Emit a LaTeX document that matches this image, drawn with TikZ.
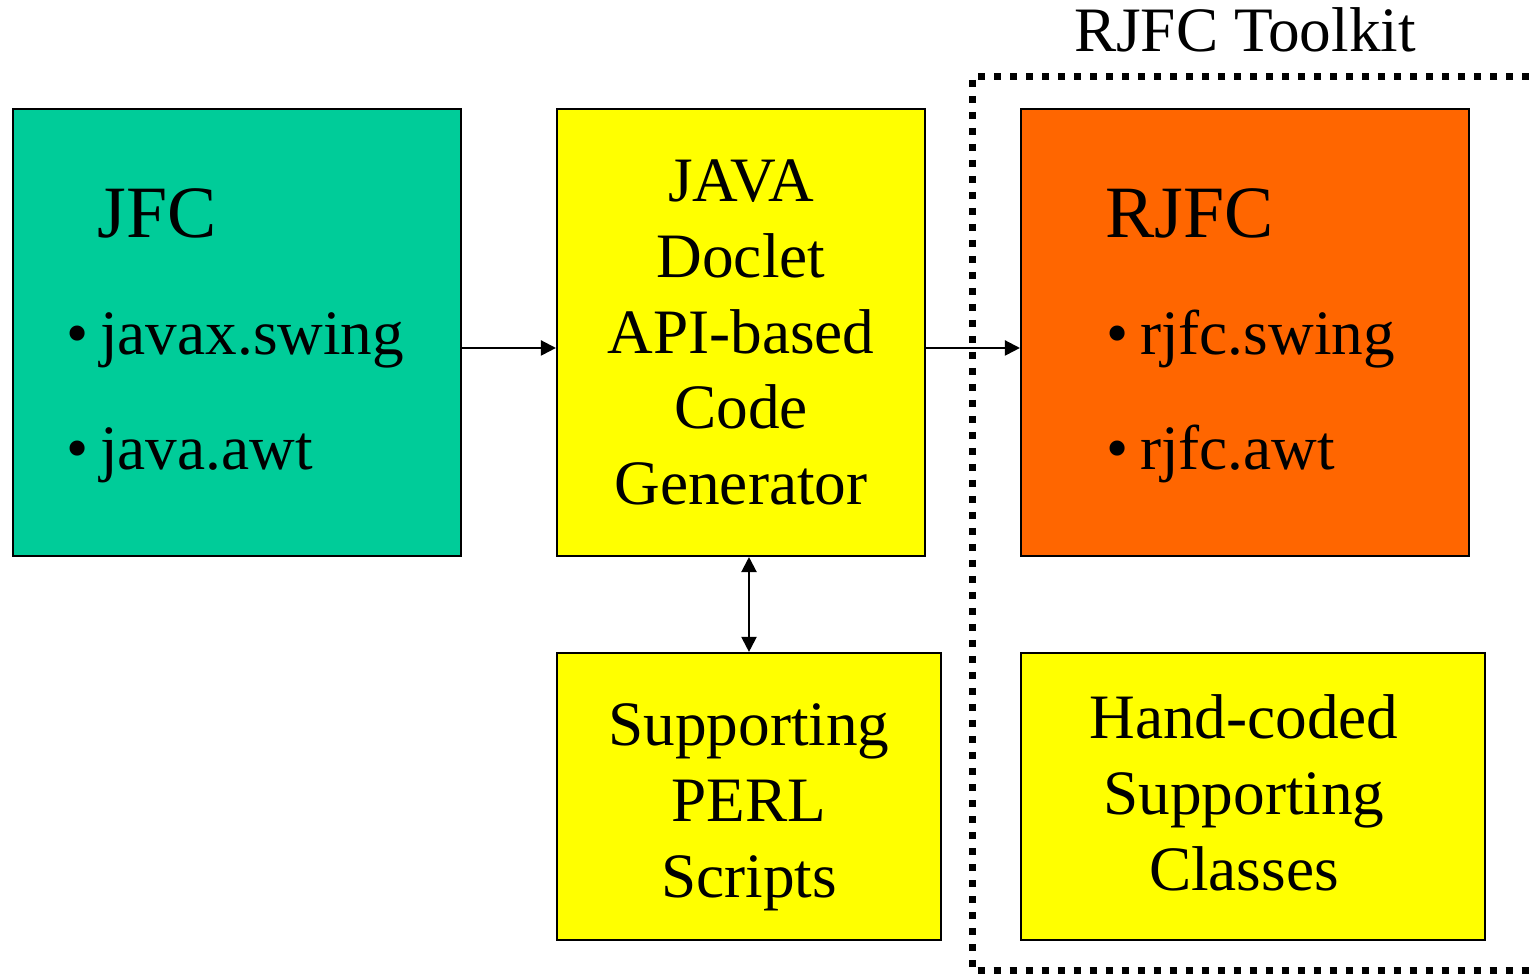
\documentclass[tikz,border=0pt]{standalone}
\usepackage{fontspec}
\setmainfont{Liberation Serif}
\usetikzlibrary{arrows.meta,calc}

\definecolor{jfcgreen}{HTML}{00CC99}
\definecolor{genyellow}{HTML}{FFFF00}
\definecolor{rjfcorange}{HTML}{FF6600}

\tikzset{
  box/.style={draw, line width=0.6pt, inner sep=0pt, align=center,
    font=\fontsize{18}{21.6}\selectfont},
  txt/.style={inner sep=0pt, align=center, font=\fontsize{18}{21.6}\selectfont},
  head/.style={anchor=base west, inner sep=0pt, font=\fontsize{21}{25}\selectfont},
  item/.style={anchor=base west, inner sep=0pt, font=\fontsize{18}{21.6}\selectfont},
}
\newcommand{\itm}[1]{\textbullet\hspace{0.18em}#1}

\begin{document}
\begin{tikzpicture}[>={Triangle[length=4.3pt,width=4.3pt]}]
        \useasboundingbox (0,0) rectangle (15.29,9.74);

        % Khung RJFC Toolkit (chấm vuông)
        \draw[line width=0.07cm, dash pattern=on 0.07cm off 0.09cm]
          (15.29,8.975) -- (9.725,8.975) -- (9.725,0.03) -- (15.29,0.03);
        \node[font=\fontsize{18}{21.6}\selectfont, anchor=base] (kit) at (12.45,9.22) {RJFC Toolkit};

        % Các khối
        \node[box, fill=jfcgreen, minimum width=4.48cm, minimum height=4.47cm] (jfc) at (2.37,6.415) {};
        \node[box, fill=genyellow, minimum width=3.68cm, minimum height=4.47cm] (gen) at (7.41,6.415)
          {JAVA\\Doclet\\API-based\\Code\\Generator};
        \node[box, fill=rjfcorange, minimum width=4.48cm, minimum height=4.47cm] (rjfc) at (12.45,6.415) {};
        \node[box, fill=genyellow, minimum width=3.84cm, minimum height=2.87cm] (perl) at (7.49,1.775) {};
        \node[box, fill=genyellow, minimum width=4.64cm, minimum height=2.87cm] (hand) at (12.53,1.775) {};

        % Chữ trong hai khối dưới
        \node[txt] (perlt) at ([yshift=-1.1mm]perl.center) {Supporting\\PERL\\Scripts};
        \node[txt] (handt) at ([xshift=-0.9mm,yshift=0.4mm]hand.center) {Hand-coded\\Supporting\\Classes};

        % Nội dung JFC
        \node[head] (jfct) at (0.97,7.36) {JFC};
        \node[item] (jfc1) at (0.66,6.19) {\itm{javax.swing}};
        \node[item] (jfc2) at (0.66,5.04) {\itm{java.awt}};

        % Nội dung RJFC
        \node[head] (rjfct) at (11.05,7.36) {RJFC};
        \node[item] (rjfc1) at (11.06,6.19) {\itm{rjfc.swing}};
        \node[item] (rjfc2) at (11.06,5.04) {\itm{rjfc.awt}};

        % Mũi tên
        \draw[->, line width=0.6pt] ([yshift=-1.55mm]jfc.east) -- ([yshift=-1.55mm]gen.west);
        \draw[->, line width=0.6pt] ([yshift=-1.55mm]gen.east) -- ([yshift=-1.55mm]rjfc.west);
        \draw[<->, line width=0.6pt] (perl.north) -- (perl.north |- gen.south);
    \end{tikzpicture}
\end{document}
